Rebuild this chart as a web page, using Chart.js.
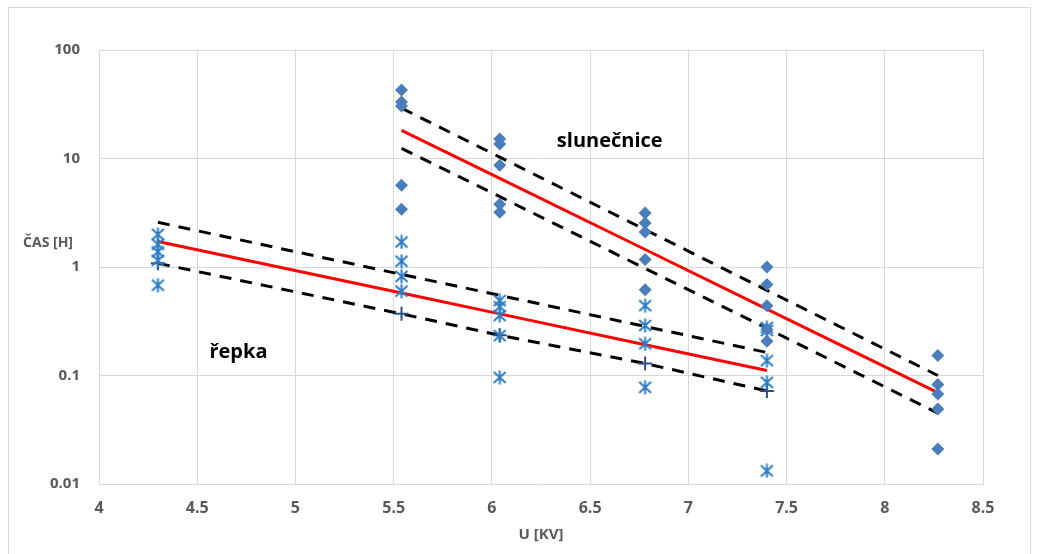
<!DOCTYPE html>
<html>
<head>
<meta charset="utf-8">
<script src="https://cdn.jsdelivr.net/npm/chart.js@4/dist/chart.umd.min.js"></script>
<style>
  html, body { margin: 0; padding: 0; background: #ffffff; }
  #wrap { width: 1038px; height: 554px; position: relative; }
</style>
</head>
<body>
<div id="wrap"><canvas id="chart"></canvas></div>
<script>
// Axis ticks
const xTickValues = [4, 4.5, 5, 5.5, 6, 6.5, 7, 7.5, 8, 8.5];
const xTickLabels = ['4', '4.5', '5', '5.5', '6', '6.5', '7', '7.5', '8', '8.5'];
const yTickValues = [0.01, 0.1, 1, 10, 100];
const yTickLabels = ['0.01', '0.1', '1', '10', '100'];

// slunečnice – measured times [h] at each voltage [kV]
const slunecniceU = [5.54, 5.54, 5.54, 5.54, 5.54,
                     6.04, 6.04, 6.04, 6.04, 6.04,
                     6.78, 6.78, 6.78, 6.78, 6.78,
                     7.4, 7.4, 7.4, 7.4, 7.4,
                     8.27, 8.27, 8.27, 8.27, 8.27];
const slunecniceT = [42.7, 33.1, 30.4, 5.67, 3.40,
                     15.1, 13.6, 8.67, 3.78, 3.19,
                     3.15, 2.54, 2.10, 1.17, 0.617,
                     1.0, 0.69, 0.44, 0.265, 0.207,
                     0.153, 0.0824, 0.0676, 0.0492, 0.021];

// řepka – measured times [h] at each voltage [kV]
const repkaU = [4.3, 4.3, 4.3, 4.3, 4.3,
                5.54, 5.54, 5.54, 5.54,
                6.04, 6.04, 6.04, 6.04, 6.04,
                6.78, 6.78, 6.78, 6.78,
                7.4, 7.4, 7.4, 7.4, 7.4];
const repkaT = [2.0, 1.62, 1.38, 1.15, 0.68,
                1.70, 1.13, 0.82, 0.60,
                0.49, 0.43, 0.357, 0.233, 0.096,
                0.44, 0.289, 0.196, 0.0778,
                0.277, 0.26, 0.137, 0.0865, 0.0132];

// Regression line and band for slunečnice
const slunecniceFitU = [5.54, 6.04, 6.78, 7.4, 8.27];
const slunecniceFit = [18.2, 6.56, 1.45, 0.409, 0.0695];
const slunecniceUpper = [29.1, 10.3, 2.21, 0.61, 0.1];
const slunecniceLower = [12.4, 4.45, 0.97, 0.272, 0.045];

// Regression line and band for řepka
const repkaFitU = [4.3, 5.54, 6.04, 6.78, 7.4];
const repkaFit = [1.72, 0.575, 0.37, 0.192, 0.111];
const repkaUpper = [2.58, 0.855, 0.548, 0.283, 0.163];
const repkaLower = [1.08, 0.37, 0.235, 0.129, 0.072];

const pairs = (xs, ys) => xs.map((x, i) => ({ x: x, y: ys[i] }));

// Asterisk marker: an "x" crossed by a vertical stroke
function asteriskMarker(color) {
  const c = document.createElement('canvas');
  c.width = 15; c.height = 15;
  const g = c.getContext('2d');
  g.strokeStyle = color;
  g.lineWidth = 2;
  g.beginPath();
  g.moveTo(7.5, 0.5); g.lineTo(7.5, 14.5);
  g.moveTo(1.5, 2); g.lineTo(13.5, 13);
  g.moveTo(13.5, 2); g.lineTo(1.5, 13);
  g.stroke();
  return c;
}

const FONT = '"Open Sans", "Liberation Sans", sans-serif';
const GRID = '#d9d9d9';
const AXIS_TEXT = '#595959';

const bandLine = (data) => ({
  type: 'line', data: data, showLine: true, fill: false,
  borderColor: '#000000', borderWidth: 3, borderDash: [12, 9],
  pointRadius: 0, tension: 0
});
const fitLine = (data) => ({
  type: 'line', data: data, showLine: true, fill: false,
  borderColor: '#ff0000', borderWidth: 3,
  pointRadius: 0, tension: 0
});

const labelsPlugin = {
  id: 'labels',
  beforeDraw(chart) {
    const ctx = chart.ctx;
    ctx.save();
    ctx.strokeStyle = GRID;
    ctx.lineWidth = 1;
    ctx.strokeRect(8.5, 7.5, 1022, 600);
    ctx.restore();
  },
  afterDraw(chart) {
    const ctx = chart.ctx;
    const xs = chart.scales.x, ys = chart.scales.y, area = chart.chartArea;
    ctx.save();
    ctx.fillStyle = AXIS_TEXT;
    ctx.font = 'bold 14px ' + FONT;
    ctx.textAlign = 'right';
    ctx.textBaseline = 'middle';
    ctx.fillText('ČAS [H]', 73, ys.getPixelForValue(1) - 24);
    ctx.font = 'bold 15px ' + FONT;
    ctx.textAlign = 'center';
    ctx.fillText('U [KV]', (area.left + area.right) / 2, 535);
    ctx.fillStyle = '#000000';
    ctx.font = 'bold 20px ' + FONT;
    ctx.fillText('slunečnice', xs.getPixelForValue(6.60), ys.getPixelForValue(14.4));
    ctx.fillText('řepka', xs.getPixelForValue(4.71), ys.getPixelForValue(0.163));
    ctx.restore();
  }
};

new Chart(document.getElementById('chart'), {
  type: 'scatter',
  data: {
    datasets: [
      {
        label: 'slunečnice',
        data: pairs(slunecniceU, slunecniceT),
        pointStyle: 'rectRot', pointRadius: 6.5, pointHoverRadius: 6.5,
        backgroundColor: '#4a7ebb', borderColor: '#4a7ebb', borderWidth: 0
      },
      {
        label: 'řepka',
        data: pairs(repkaU, repkaT),
        pointStyle: asteriskMarker('#2b7cc4'), pointRadius: 7
      },
      {
        label: 'řepka – dolní mez',
        type: 'line', data: pairs(repkaFitU, repkaLower), showLine: true, fill: false,
        borderColor: '#000000', borderWidth: 3, borderDash: [12, 9], tension: 0,
        pointStyle: 'cross', pointRadius: 7, pointBorderColor: '#2d4f86',
        pointBorderWidth: 2
      },
      Object.assign({ label: 'řepka – trend' }, fitLine(pairs(repkaFitU, repkaFit))),
      Object.assign({ label: 'řepka – horní mez' }, bandLine(pairs(repkaFitU, repkaUpper))),
      Object.assign({ label: 'slunečnice – trend' }, fitLine(pairs(slunecniceFitU, slunecniceFit))),
      Object.assign({ label: 'slunečnice – horní mez' }, bandLine(pairs(slunecniceFitU, slunecniceUpper))),
      Object.assign({ label: 'slunečnice – dolní mez' }, bandLine(pairs(slunecniceFitU, slunecniceLower)))
    ]
  },
  options: {
    responsive: true,
    maintainAspectRatio: false,
    animation: false,
    events: [],
    layout: { padding: { top: 50, right: 55, left: 0, bottom: 0 } },
    plugins: { legend: { display: false }, tooltip: { enabled: false } },
    scales: {
      x: {
        type: 'linear', min: 4, max: 8.5,
        afterFit(scale) { scale.height = 70; },
        afterBuildTicks(scale) { scale.ticks = xTickValues.map(v => ({ value: v })); },
        grid: { color: GRID, lineWidth: 1, drawTicks: false },
        border: { color: GRID },
        ticks: {
          padding: 15, color: AXIS_TEXT,
          font: { family: FONT, size: 16, weight: 'bold' },
          callback: (v) => xTickLabels[xTickValues.indexOf(v)]
        }
      },
      y: {
        type: 'logarithmic', min: 0.01, max: 100,
        afterFit(scale) { scale.width = 99; },
        afterBuildTicks(scale) { scale.ticks = yTickValues.map(v => ({ value: v })); },
        grid: { color: GRID, lineWidth: 1, drawTicks: false },
        border: { color: GRID },
        ticks: {
          padding: 19, color: AXIS_TEXT,
          font: { family: FONT, size: 15, weight: 'bold' },
          callback: (v) => yTickLabels[yTickValues.indexOf(v)]
        }
      }
    }
  },
  plugins: [labelsPlugin]
});
</script>
</body>
</html>
